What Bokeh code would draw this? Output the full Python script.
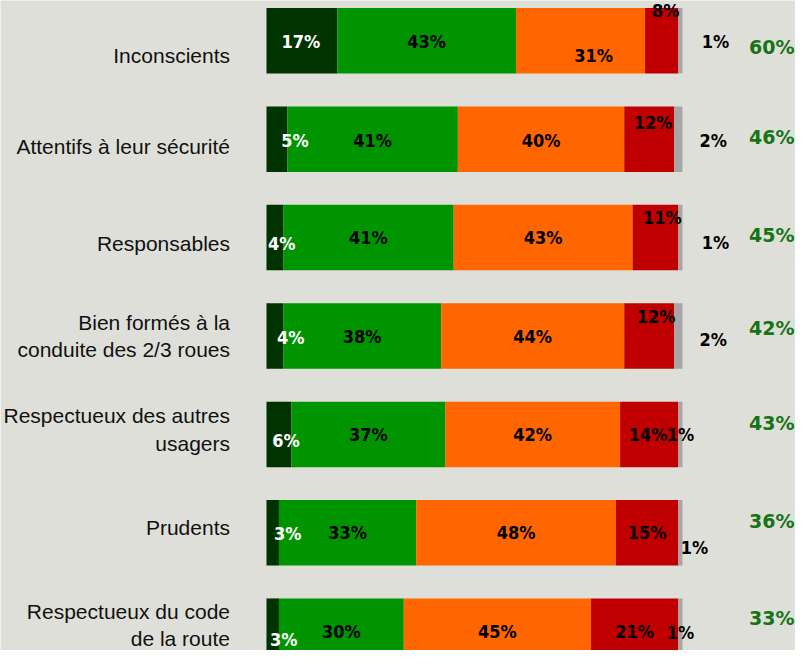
from bokeh.plotting import figure
from bokeh.models import ColumnDataSource, Range1d
from bokeh.core.properties import value
from bokeh.embed import file_html
from bokeh.resources import INLINE
import numpy as np

# ---------------- data ----------------
categories = [
    "Inconscients",
    "Attentifs à leur sécurité",
    "Responsables",
    "Bien formés à la\nconduite des 2/3 roues",
    "Respectueux des autres\nusagers",
    "Prudents",
    "Respectueux du code\nde la route",
]
tout_a_fait = [17, 5, 4, 4, 6, 3, 3]
plutot_oui = [43, 41, 41, 38, 37, 33, 30]
plutot_non = [31, 40, 43, 44, 42, 48, 45]
pas_du_tout = [8, 12, 11, 12, 14, 15, 21]
nsp = [1, 2, 1, 2, 1, 1, 1]
totals = [60, 46, 45, 42, 43, 36, 33]

series = [tout_a_fait, plutot_oui, plutot_non, pas_du_tout, nsp]
colors = ["#003300", "#009400", "#FF6600", "#C00000", "#A6A6A6"]
label_colors = ["#FFFFFF", "#000000", "#000000", "#000000", "#000000"]

# label nudges in screen pixels (layout only), per row per segment
nudge_x = [
    [-1, 0, 13, 4, 35],
    [18, 0, 0, 4, 35],
    [7, 0, 0, 7, 35],
    [16, 0, 0, 7, 35],
    [7, 0, 0, -1, 0],
    [15, 0, 0, 0, 14],
    [11, 0, 0, 0, 0],
]
nudge_y = [
    [1, 1, 15, -30, 1],
    [1, 1, 1, -17, 1],
    [6, 0, 0, -20, 5],
    [1, 0, 0, -20, 3],
    [6, 0, 0, 0, 0],
    [1, 0, 0, 0, 15],
    [8, 0, 0, 0, 1],
]
cat_nudge_y = [15, 7, 6, 0, -5, -5, -6]
total_nudge_y = [6, -2, -3, -8, -11, -12, -13]

BG = "#DFDFD9"
rows = np.arange(len(categories))

p = figure(
    width=795, height=650,
    x_range=Range1d(-63.94, 127.17),
    y_range=Range1d(6.1961, -0.4096),
    output_backend="svg", toolbar_location=None,
    min_border=0,
)
p.xaxis.visible = False
p.yaxis.visible = False
p.grid.visible = False
p.outline_line_color = None
p.background_fill_color = BG
p.border_fill_color = BG

data = np.array(series, dtype=float)  # shape (5, n)
cum = np.cumsum(data, axis=0)
lefts = cum - data

for k in range(len(series)):
    src = ColumnDataSource(dict(y=rows, left=lefts[k], right=cum[k]))
    p.hbar(y="y", left="left", right="right", height=0.666, source=src,
           fill_color=colors[k], line_color=None)

# value labels
lx, ly, lt, lc, ox, oy = [], [], [], [], [], []
for k in range(len(series)):
    for i in rows:
        lx.append((lefts[k][i] + cum[k][i]) / 2)
        ly.append(i)
        lt.append(f"{series[k][i]}%")
        lc.append(label_colors[k])
        ox.append(nudge_x[i][k])
        oy.append(nudge_y[i][k])
lsrc = ColumnDataSource(dict(x=lx, y=ly, text=lt, color=lc, ox=ox, oy=oy))
p.text(x="x", y="y", text="text", source=lsrc, text_color="color",
       x_offset="ox", y_offset="oy",
       text_font=value("'DejaVu Sans Condensed', 'DejaVu Sans'"),
       text_font_style="bold", text_font_size="18px",
       text_align="center", text_baseline="middle")

# category labels
csrc = ColumnDataSource(dict(x=[0] * len(categories), y=rows, text=categories,
                             oy=cat_nudge_y))
p.text(x="x", y="y", text="text", source=csrc, x_offset=-36.5, y_offset="oy",
       text_font=value("Liberation Sans"), text_font_size="21px",
       text_color="#111111", text_align="right", text_baseline="middle",
       text_line_height=1.2)

# totals
tsrc = ColumnDataSource(dict(x=[100] * len(totals), y=rows,
                             text=[f"{t}%" for t in totals], oy=total_nudge_y))
p.text(x="x", y="y", text="text", source=tsrc, x_offset=112, y_offset="oy",
       text_font=value("DejaVu Sans"), text_font_style="bold",
       text_font_size="19px", text_color="#167316",
       text_align="right", text_baseline="middle")

open("out.html", "w").write(file_html(p, INLINE))
